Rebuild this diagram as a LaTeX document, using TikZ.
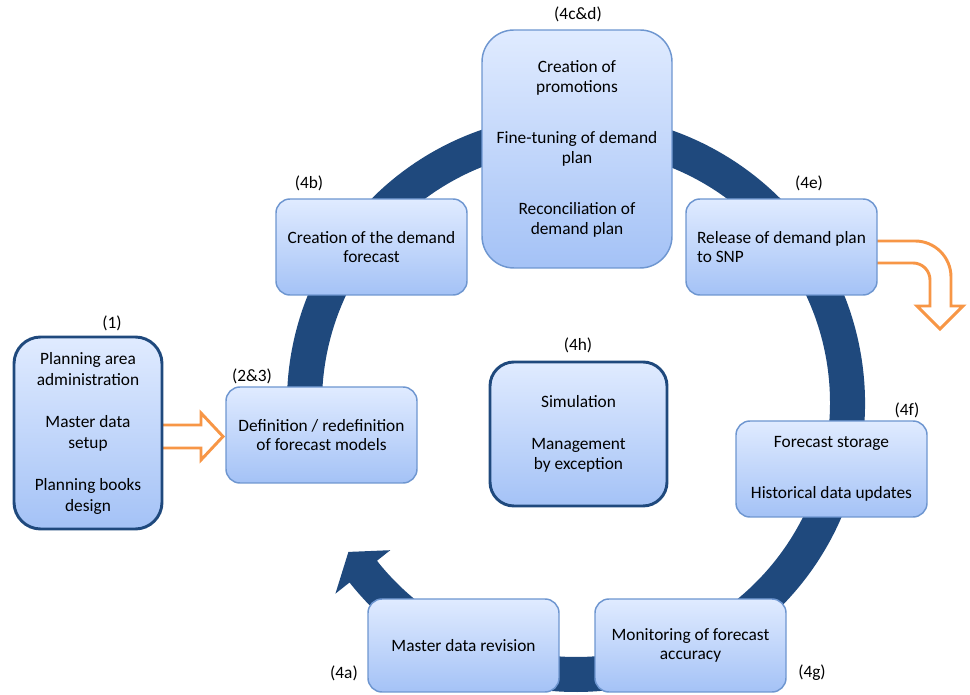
\documentclass[tikz,border=0pt]{standalone}
\usepackage{fontspec}
\setmainfont{Carlito}
\usetikzlibrary{calc,backgrounds}
\definecolor{ringblue}{RGB}{31,73,125}
\definecolor{boxedge}{RGB}{110,150,208}
\definecolor{boxtop}{RGB}{224,235,255}
\definecolor{boxbottom}{RGB}{164,194,246}
\definecolor{flow}{RGB}{247,150,70}
\begin{document}
\begin{tikzpicture}[x=0.75pt,y=0.75pt,
  stage/.style={shape=rectangle, rounded corners=10.5pt, draw=boxedge, line width=1.1pt,
    top color=boxtop, bottom color=boxbottom, minimum width=143.25pt, minimum height=72pt,
    inner sep=0pt, outer sep=0pt, align=center, font=\fontsize{13}{14.6}\selectfont},
  keystage/.style={stage, draw=ringblue, line width=2.2pt},
  tag/.style={font=\fontsize{13}{14}\selectfont, inner sep=0pt},
  blockarrow/.style={draw=flow, line width=2.2pt, fill=white, line join=miter}
]
\useasboundingbox (0,0) rectangle (970,695);

% circular flow band with its arrow head
\begin{scope}[shift={(576,292)}]
  \fill[ringblue] (190:289) arc[start angle=190, end angle=-141.6, radius=289]
    -- (-141.6:307) -- (-146.8:272) -- (-141.6:237) -- (-141.6:254)
    arc[start angle=-141.6, end angle=190, radius=254] -- cycle;
\end{scope}

% process steps
\node[keystage, rounded corners=20pt, minimum width=111pt, minimum height=144pt,
  font=\fontsize{13}{15.75}\selectfont] (b1) at (88,262)
  {Planning area\\administration\\[15.75pt]Master data\\setup\\[15.75pt]Planning books\\design};
\node[stage] (b23) at (321.5,260) {Definition / redefinition\\of forecast models};
\node[stage] (b4b) at (371.5,448) {Creation of the demand\\forecast};
\node[stage, rounded corners=24pt, minimum width=142.5pt, minimum height=178.5pt] (b4cd) at (577,546)
  {Creation of\\promotions\\[24pt]Fine-tuning of demand\\plan\\[24pt]Reconciliation of\\demand plan};
\node[stage, align=left] (b4e) at (781.5,448) {Release of demand plan\\to SNP};
\node[keystage, rounded corners=18pt, minimum width=132.75pt, minimum height=108pt,
  font=\fontsize{13}{15}\selectfont] (b4h) at (578.5,261)
  {Simulation\\[16.5pt]Management\\by exception};
\node[stage] (b4f) at (831.5,226) {Forecast storage\\[24pt]Historical data updates};
\node[stage, minimum height=69.75pt] (b4g) at (690.5,49.5) {Monitoring of forecast\\accuracy};
\node[stage, minimum height=69.75pt] (b4a) at (463.5,49.5) {Master data revision};

% step numbers
\node[tag] (t1) at (112,372) {(1)};
\node[tag] (t23) at (252,319) {(2\&3)};
\node[tag] (t4b) at (309,512) {(4b)};
\node[tag] (t4cd) at (578,681) {(4c\&d)};
\node[tag] (t4e) at (809,512) {(4e)};
\node[tag] (t4h) at (578,350) {(4h)};
\node[tag] (t4f) at (907,285) {(4f)};
\node[tag] (t4g) at (812,22) {(4g)};
\node[tag] (t4a) at (344,22) {(4a)};

% hollow block arrows
\begin{scope}[on background layer]
  \draw[blockarrow] ($(b1.east)+(-6,8)$) -- ++(45,0) -- ++(0,12) -- ++(22,-23.5)
    -- ++(-22,-23.5) -- ++(0,12) -- ($(b1.east)+(-6,-15)$);
  \draw[blockarrow] ($(b4e.east)+(-6,6)$) -- ++(44,0)
    arc[start angle=90, end angle=0, radius=36] -- ++(0,-29) -- ++(12,0)
    -- ++(-23,-23) -- ++(-23,23) -- ++(13,0) -- ++(0,26)
    arc[start angle=0, end angle=90, radius=17] -- ($(b4e.east)+(-6,-16)$);
\end{scope}
\end{tikzpicture}
\end{document}
